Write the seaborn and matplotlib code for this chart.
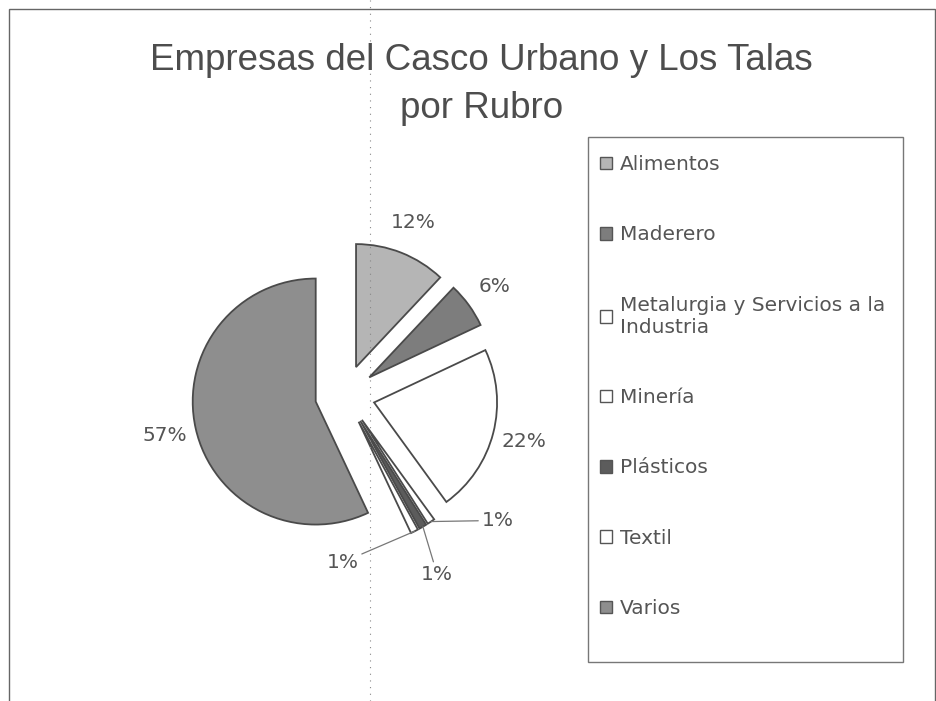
from matplotlib import pyplot as plt
from matplotlib.patches import Patch, Rectangle
from matplotlib.lines import Line2D
import seaborn as sns
import numpy as np

# Data
rubros = ["Alimentos", "Maderero", "Metalurgia y Servicios a la\nIndustria",
          "Minería", "Plásticos", "Textil", "Varios"]
porcentajes = [12, 6, 22, 1, 1, 1, 57]
colores = ["#b5b5b5", "#7d7d7d", "#ffffff", "#ffffff", "#5c5c5c", "#ffffff", "#8e8e8e"]

titulo_1 = "Empresas del Casco Urbano y Los Talas"
titulo_2 = "por Rubro"

sns.set_theme(style="white")
plt.rcParams["font.family"] = ["DejaVu Sans"]

W, H = 937, 701
fig = plt.figure(figsize=(W / 100, H / 100), dpi=100)
fig.patch.set_facecolor("white")

# pie centre at (345, 395) px, 123 px per unit
cx, cy, unit, half = 345, 395, 123, 2.4
ax = fig.add_axes([(cx - half * unit) / W, (H - cy - half * unit) / H,
                   2 * half * unit / W, 2 * half * unit / H])

explode = [0.244] * len(porcentajes)
wedges, texts, autotexts = ax.pie(
    porcentajes, explode=explode, colors=colores, startangle=90,
    counterclock=False, autopct="%1.0f%%", pctdistance=1.26,
    wedgeprops=dict(edgecolor="#4a4a4a", linewidth=1.3),
    textprops=dict(color="#555555", fontsize=14.5),
)
ax.set_xlim(-half, half)
ax.set_ylim(-half, half)
ax.set_aspect("equal")
ax.axis("off")

# small slices: labels moved out with leader lines
pos_chicas = {3: (1.24, -1.02), 4: (0.75, -1.46), 5: (-0.02, -1.36)}
for i, (tx, ty) in pos_chicas.items():
    w = wedges[i]
    mid = np.deg2rad((w.theta1 + w.theta2) / 2)
    tip = (w.center[0] + w.r * np.cos(mid), w.center[1] + w.r * np.sin(mid))
    autotexts[i].set_visible(False)
    ax.annotate(f"{porcentajes[i]}%", xy=tip, xytext=(tx, ty), ha="center", va="center",
                color="#555555", fontsize=14.5,
                arrowprops=dict(arrowstyle="-", color="#777777", lw=0.9,
                                shrinkA=0, shrinkB=0))

# title
fig.text(481 / W, 1 - 70 / H, titulo_1, ha="center", va="baseline",
         fontsize=26.5, color="#4d4d4d", family=["Liberation Sans", "DejaVu Sans"])
fig.text(482 / W, 1 - 118 / H, titulo_2, ha="center", va="baseline",
         fontsize=26.5, color="#4d4d4d", family=["Liberation Sans", "DejaVu Sans"])

# legend
handles = [Patch(facecolor=c, edgecolor="#555555", linewidth=1) for c in colores]
leg = fig.legend(handles, rubros, loc="upper left",
                 bbox_to_anchor=(600 / W, 1 - 155 / H), frameon=False,
                 fontsize=14.5, labelspacing=2.55, handlelength=0.6,
                 handleheight=0.6, handletextpad=0.4, borderpad=0, borderaxespad=0)
for t in leg.get_texts():
    t.set_color("#555555")

fig.patches.append(Rectangle((588 / W, 1 - 662 / H), 315 / W, 525 / H,
                             transform=fig.transFigure, fill=False,
                             edgecolor="#777777", linewidth=1))

# outer frame of the scanned sheet and fold line
fig.patches.append(Rectangle((9 / W, -0.05), 926 / W, 1.05 - 9 / H,
                             transform=fig.transFigure, fill=False,
                             edgecolor="#666666", linewidth=1))
fig.lines.append(Line2D([370 / W, 370 / W], [0, 1], transform=fig.transFigure,
                        color="#888888", lw=0.8, linestyle=(0, (1, 5))))

plt.savefig("out.png", dpi=100)
